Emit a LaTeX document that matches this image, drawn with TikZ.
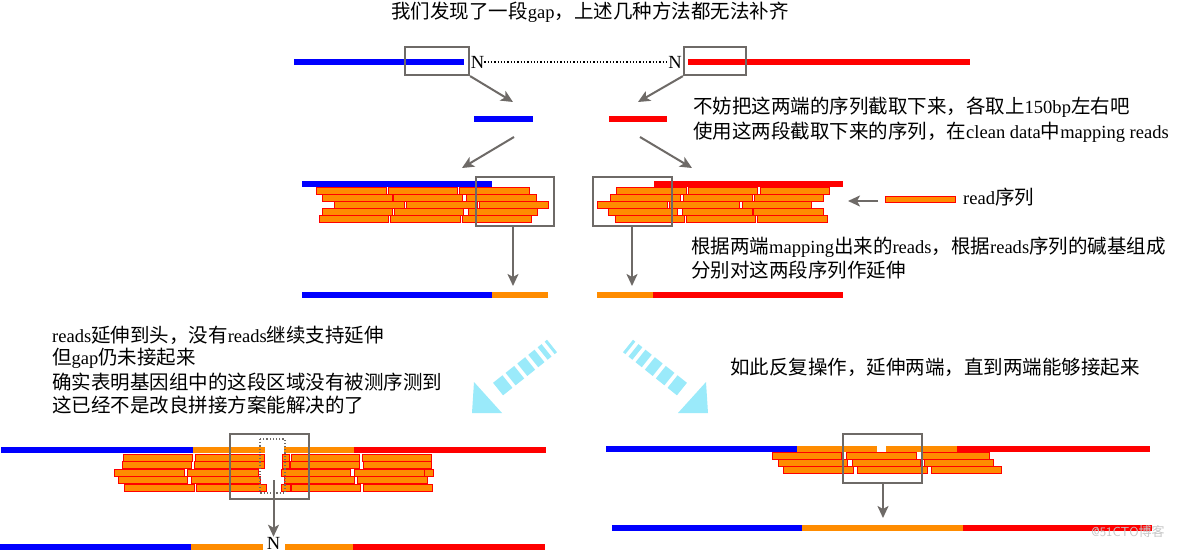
\documentclass[tikz,border=0pt]{standalone}
\usepackage{fontspec}
\setmainfont{Liberation Serif}[Scale=0.95]
\newfontfamily\cjk{Noto Sans CJK SC}
\usetikzlibrary{arrows.meta}
\definecolor{myblue}{RGB}{0,0,255}
\definecolor{myred}{RGB}{255,0,0}
\definecolor{myorange}{RGB}{255,140,0}
\definecolor{mygray}{RGB}{110,106,103}
\definecolor{mycyan}{RGB}{154,234,250}
\newcommand\zhx[1]{{\cjk #1}}
\tikzset{
  seqline/.style={line width=6pt},
  bseq/.style={seqline, draw=myblue},
  rseq/.style={seqline, draw=myred},
  oseq/.style={seqline, draw=myorange},
  readst/.style={fill=myorange, draw=myred, line width=0.8pt},
  gbox/.style={draw=mygray, line width=2.2pt, inner sep=0pt},
  garrow/.style={draw=mygray, line width=2pt, -{Stealth[length=12pt,width=11pt,inset=3pt]}},
  txt/.style={anchor=west, inner sep=0pt, font=\fontsize{19.5}{23}\selectfont},
  stripes/.style={draw=mycyan, line width=16pt, dash pattern=on 3pt off 4pt on 5pt off 4pt on 8pt off 4pt on 10pt off 4pt on 11pt off 4pt on 12pt off 20pt},
}
\newcommand\rd[3]{\filldraw[readst] (#1,#3-3.3) rectangle (#2,#3+3.3);}
\begin{document}
\begin{tikzpicture}[x=1pt,y=-1pt]
\useasboundingbox[fill=white] (0,0) rectangle (1184,552);

% ---------- title ----------
\node[txt, anchor=center] (title) at (590,12) {\zhx{我们发现了一段}gap\zhx{，上述几种方法都无法补齐}};

% ---------- top sequences ----------
\draw[bseq] (294,62) -- (464,62);
\node[inner sep=0pt, font=\fontsize{19.5}{23}\selectfont] (n1) at (477.5,62) {N};
\node[inner sep=0pt, font=\fontsize{19.5}{23}\selectfont] (n2) at (675,62) {N};
\draw[line width=1.3pt, dotted] (n1.east) -- (n2.west);
\draw[rseq] (688,62) -- (970,62);
\node[gbox, minimum width=64pt, minimum height=28pt] (b1) at (437,61) {};
\node[gbox, minimum width=62pt, minimum height=28pt] (b2) at (715,61) {};

% cut pieces
\draw[bseq] (474,119) -- (533,119);
\draw[rseq] (609,119) -- (667,119);
\coordinate (p1) at (513,102);
\coordinate (p2) at (638,102);
\draw[garrow] (b1.south east) -- (p1);
\draw[garrow] (b2.south west) -- (p2);

\node[txt] (t1) at (693,107) {\zhx{不妨把这两端的序列截取下来，各取上}150bp\zhx{左右吧}};
\node[txt] (t2) at (693,132) {\zhx{使用这两段截取下来的序列，在}clean data\zhx{中}mapping reads};

\coordinate (q1s) at (514,137);
\coordinate (q1e) at (462,168);
\coordinate (q2s) at (640,137);
\coordinate (q2e) at (692,168);
\draw[garrow] (q1s) -- (q1e);
\draw[garrow] (q2s) -- (q2e);

% ---------- middle stacks ----------
\draw[bseq] (302,184) -- (492,184);
\rd{316}{386}{191}\rd{388}{457}{191}\rd{459}{529}{191}
\rd{322}{392}{198}\rd{393}{462}{198}\rd{466}{536}{198}
\rd{334}{404}{205}\rd{406}{477}{205}\rd{479}{548}{205}
\rd{322}{392}{212}\rd{394}{463}{212}\rd{468}{537}{212}
\rd{319}{388}{219}\rd{390}{460}{219}\rd{462}{531}{219}

\draw[rseq] (654,184) -- (843,184);
\rd{616}{686}{191}\rd{688}{757}{191}\rd{760}{829}{191}
\rd{610}{680}{198}\rd{683}{752}{198}\rd{754}{823}{198}
\rd{597}{667}{205}\rd{669}{739}{205}\rd{742}{811}{205}
\rd{608}{677}{212}\rd{682}{752}{212}\rd{753}{823}{212}
\rd{615}{684}{219}\rd{686}{755}{219}\rd{757}{827}{219}

\node[gbox, minimum width=78pt, minimum height=49pt] (b3) at (515,201.5) {};
\node[gbox, minimum width=79pt, minimum height=49pt] (b4) at (632.5,201.5) {};

% legend
\filldraw[readst] (885,196) rectangle (955,202.5);
\node[txt] (leg) at (963,197) {read\zhx{序列}};
\coordinate (ls) at (878,201);
\coordinate (le) at (848,201);
\draw[garrow] (ls) -- (le);

\node[txt] (t3) at (691,247) {\zhx{根据两端}mapping\zhx{出来的}reads\zhx{，根据}reads\zhx{序列的碱基组成}};
\node[txt] (t4) at (691,270) {\zhx{分别对这两段序列作延伸}};

% extended
\coordinate (e1) at (513,286);
\coordinate (e2) at (632,286);
\draw[garrow] (b3.south -| e1) -- (e1);
\draw[garrow] (b4.south -| e2) -- (e2);
\draw[bseq] (302,295) -- (492,295);
\draw[oseq] (492,295) -- (548,295);
\draw[oseq] (597,295) -- (653,295);
\draw[rseq] (653,295) -- (843,295);

% ---------- cyan striped arrows ----------
\draw[stripes] (552,346) -- (487.5,397.5);
\fill[mycyan] (474,382) -- (472,413) -- (502,413) -- cycle;
\draw[stripes] (628,346) -- (692.5,397.5);
\fill[mycyan] (706,382) -- (708,413) -- (678,413) -- cycle;

% ---------- texts ----------
\node[txt] (l1) at (52,335) {reads\zhx{延伸到头，没有}reads\zhx{继续支持延伸}};
\node[txt] (l2) at (52,358) {\zhx{但}gap\zhx{仍未接起来}};
\node[txt] (l3) at (52,382) {\zhx{确实表明基因组中的这段区域没有被测序测到}};
\node[txt] (l4) at (52,405) {\zhx{这已经不是改良拼接方案能解决的了}};
\node[txt] (r1) at (730,367) {\zhx{如此反复操作，延伸两端，直到两端能够接起来}};

% ---------- bottom left ----------
\draw[bseq] (1,450) -- (193,450);
\draw[oseq] (193,450) -- (265,450);
\draw[oseq] (284,450) -- (354,450);
\draw[rseq] (354,450) -- (546,450);
\rd{123}{192}{458}\rd{195}{264}{458}\rd{282}{289}{458}\rd{291}{359}{458}\rd{362}{431}{458}
\rd{122}{191}{465}\rd{194}{264}{465}\rd{282}{289}{465}\rd{290}{359}{465}\rd{363}{431}{465}
\rd{114}{184}{473}\rd{187}{258}{473}\rd{281}{350}{473}\rd{354}{424}{473}\rd{424}{433}{473}
\rd{118}{187}{480}\rd{191}{260}{480}\rd{284}{354}{480}\rd{357}{427}{480}
\rd{124}{194}{488}\rd{196}{266}{488}\rd{281}{290}{488}\rd{291}{360}{488}\rd{363}{432}{488}
\draw[mygray, line width=1.2pt, dotted] (260,439) rectangle (285,493);
\node[gbox, minimum width=79pt, minimum height=65pt] (b5) at (269.5,466.5) {};
\node[inner sep=0pt, font=\fontsize{19.5}{23}\selectfont] (n3) at (273.5,543) {N};
\coordinate (g1) at (273.5,480);
\draw[garrow] (g1) -- (n3.north);
\draw[bseq] (0,547) -- (191,547);
\draw[oseq] (191,547) -- (263,547);
\draw[oseq] (285,547) -- (353,547);
\draw[rseq] (353,547) -- (545,547);

% ---------- bottom right ----------
\draw[bseq] (606,449) -- (797,449);
\draw[oseq] (797,449) -- (877,449);
\draw[oseq] (886,449) -- (957,449);
\draw[rseq] (957,449) -- (1150,449);
\rd{772}{841}{456}\rd{846}{916}{456}\rd{921}{989}{456}
\rd{778}{847}{463}\rd{852}{920}{463}\rd{924}{993}{463}
\rd{783}{853}{470}\rd{857}{927}{470}\rd{931}{1001}{470}
\node[gbox, minimum width=79pt, minimum height=49pt] (b6) at (882.5,458.5) {};
\coordinate (g2) at (883,518);
\draw[garrow] (b6.south -| g2) -- (g2);
\draw[bseq] (612,528) -- (802,528);
\draw[oseq] (802,528) -- (963,528);
\draw[rseq] (963,528) -- (1152,528);

% watermark
\node[inner sep=0pt, text=black!22, font=\fontsize{13}{15}\selectfont\sffamily] (wm) at (1128,531) {@51CTO\zhx{博客}};
\end{tikzpicture}
\end{document}
